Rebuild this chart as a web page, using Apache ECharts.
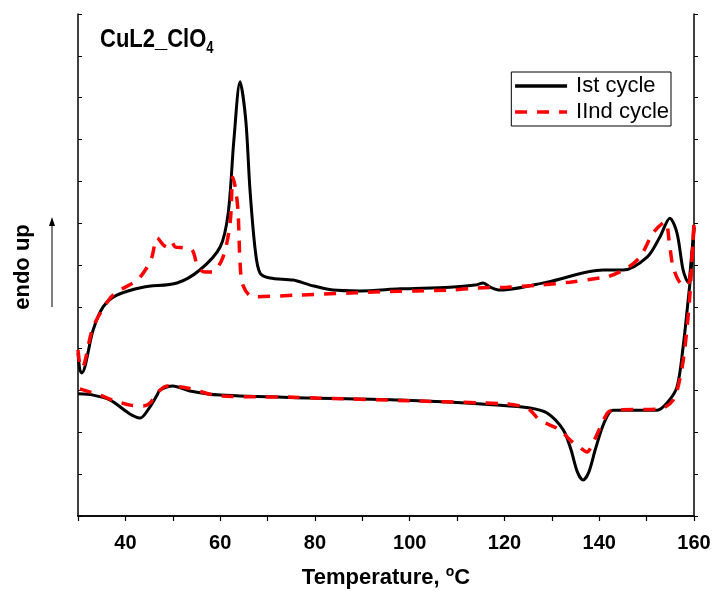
<!DOCTYPE html>
<html>
<head>
<meta charset="utf-8">
<script src="https://cdn.jsdelivr.net/npm/echarts@6/dist/echarts.min.js"></script>
<style>
  html, body { margin: 0; padding: 0; background: #fff; }
  #main { width: 713px; height: 592px; }
</style>
</head>
<body>
<div id="main"></div>
<script>
// x tick labels
var xTicks = [40, 60, 80, 100, 120, 140, 160];

// Ist cycle, heating (T, signal)
var heat1 = [
  [30, 3.90], [30.4, 3.49], [30.8, 3.42], [33.2, 4.45], [35.3, 5.00], [38.2, 5.28],
  [43.7, 5.47], [50.9, 5.57], [55.7, 5.88], [60.0, 6.43], [61.7, 7.24], [62.9, 8.99],
  [64.2, 10.38], [65.4, 9.47], [66.3, 7.79], [67.4, 6.36], [68.4, 5.81], [70.5, 5.69],
  [75.4, 5.64], [79.0, 5.52], [83.8, 5.40], [89.5, 5.38], [98.0, 5.43], [108.5, 5.47],
  [113.8, 5.52], [115.5, 5.57], [117.0, 5.47], [119.1, 5.40], [129.0, 5.59], [140.8, 5.88],
  [145.0, 5.88], [150.1, 6.19], [152.8, 6.67], [154.9, 7.12], [156.4, 6.77], [157.7, 5.88],
  [158.7, 5.59], [159.6, 6.36], [160, 6.91]
];
// Ist cycle, cooling
var cool1 = [
  [30, 2.92], [33.2, 2.89], [36.8, 2.77], [40.3, 2.49], [41.4, 2.41], [43.1, 2.34],
  [45.2, 2.61], [46.7, 2.89], [47.3, 3.01], [50.0, 3.11], [53.6, 2.99], [60.0, 2.89],
  [79.0, 2.82], [98.0, 2.77], [119.1, 2.65], [125.4, 2.58], [129.0, 2.46], [132.4, 2.06],
  [134.0, 1.60], [135.4, 1.05], [136.6, 0.86], [137.8, 1.05], [139.2, 1.60], [141.0, 2.22],
  [142.9, 2.53], [152.2, 2.53], [154.3, 2.70], [156.4, 3.08], [157.7, 4.04], [158.7, 5.09],
  [159.4, 5.88], [160, 6.91]
];
// IInd cycle, heating
var heat2 = [
  [30, 3.97], [30.4, 3.61], [30.8, 3.54], [33.2, 4.52], [36.8, 5.21], [38.9, 5.40],
  [42.5, 5.64], [44.6, 5.95], [45.6, 6.19], [46.7, 6.65], [48.0, 6.48], [48.8, 6.43],
  [49.8, 6.55], [50.5, 6.43], [52.2, 6.41], [54.1, 6.36], [55.3, 5.95], [56.8, 5.83],
  [58.3, 5.83], [60.6, 6.19], [62.1, 7.00], [62.7, 8.10], [63.3, 7.79], [63.8, 7.24],
  [64.2, 6.05], [64.8, 5.52], [66.9, 5.24], [76.2, 5.28], [87.4, 5.33], [94.4, 5.36],
  [101.5, 5.38], [108.5, 5.40], [114.2, 5.45], [120.5, 5.47], [127.5, 5.52], [133.8, 5.59],
  [140.2, 5.69], [141.7, 5.71], [145.9, 5.93], [148.6, 6.19], [151.4, 6.77], [153.9, 7.03],
  [154.9, 6.43], [155.6, 5.95], [157.1, 5.57], [158.7, 5.52], [160, 7.00]
];
// IInd cycle, cooling
var cool2 = [
  [30.4, 3.04], [34.6, 2.89], [37.4, 2.77], [41.0, 2.65], [43.7, 2.63], [45.2, 2.70],
  [46.7, 2.94], [48.8, 3.11], [53.0, 3.06], [60.0, 2.87], [75.4, 2.84], [80.4, 2.82],
  [101.5, 2.75], [120.5, 2.68], [123.3, 2.63], [125.4, 2.53], [127.5, 2.29], [131.7, 2.06],
  [133.8, 1.82], [136.0, 1.63], [137.4, 1.53], [138.7, 1.75], [141.7, 2.46], [142.9, 2.53],
  [152.8, 2.56], [155.6, 2.77], [157.1, 3.32], [158.1, 4.04], [159.1, 5.24], [160, 7.00]
];

var myChart = echarts.init(document.getElementById('main'));
var font = 'Liberation Sans';

function lineSeries(name, data, color, type) {
  return {
    name: name,
    type: 'line',
    data: data,
    symbol: 'none',
    smooth: 0.3,
    lineStyle: { color: color, width: type === 'solid' ? 3 : 3.5, type: type === 'solid' ? 'solid' : [12, 10] },
    itemStyle: { color: color },
    z: type === 'solid' ? 2 : 3
  };
}

var option = {
  animation: false,
  textStyle: { fontFamily: font },
  grid: { left: 78, right: 19, top: 14, bottom: 76, outerBoundsMode: 'none', containLabel: false },
  legend: {
    right: 42, top: 72,
    orient: 'vertical',
    data: ['Ist cycle', 'IInd cycle'],
    itemWidth: 52, itemHeight: 14, itemGap: 4,
    padding: [3, 2, 3, 2],
    borderColor: '#000', borderWidth: 1, borderRadius: 0,
    itemStyle: { opacity: 0 },
    lineStyle: { width: 3.5 },
    textStyle: { fontSize: 22, color: '#000', fontFamily: font, padding: [0, 0, 0, 4] }
  },
  xAxis: [{
    type: 'value', min: 30, max: 160, interval: 10,
    name: '{t|Temperature, }{s|o}{t|C}', nameLocation: 'middle', nameGap: 49,
    nameTextStyle: { rich: {
      t: { fontSize: 22, fontWeight: 'bold', color: '#000', fontFamily: font },
      s: { fontSize: 14, fontWeight: 'bold', color: '#000', fontFamily: font, verticalAlign: 'top', padding: [0, 0, 12, 0] }
    } },
    axisLine: { lineStyle: { color: '#000', width: 1.5 } },
    axisTick: { inside: false, length: 5, lineStyle: { color: '#000', width: 1.2 } },
    axisLabel: {
      fontSize: 20, fontWeight: 'bold', color: '#000', margin: 17,
      formatter: function (v) { return xTicks.indexOf(v) >= 0 ? String(v) : ''; }
    },
    splitLine: { show: false }
  }, {
    type: 'value', min: 30, max: 160, interval: 10, position: 'top',
    axisLine: { show: true, lineStyle: { color: '#000', width: 1.5 } },
    axisTick: { inside: true, length: 4, lineStyle: { color: '#000' } },
    axisLabel: { show: false }, splitLine: { show: false }
  }],
  yAxis: [{
    type: 'value', min: 0, max: 12, interval: 1,
    axisLine: { show: true, lineStyle: { color: '#000', width: 1.5 } },
    axisTick: { show: true, inside: true, length: 4, lineStyle: { color: '#000' } },
    axisLabel: { show: false }, splitLine: { show: false }
  }, {
    type: 'value', min: 0, max: 12, interval: 1, position: 'right',
    axisLine: { show: true, lineStyle: { color: '#000', width: 1.5 } },
    axisTick: { show: true, inside: false, length: 4, lineStyle: { color: '#000' } },
    axisLabel: { show: false }, splitLine: { show: false }
  }],
  graphic: [
    {
      type: 'text', x: 100, y: 24, scaleY: 1.2,
      style: {
        text: '{a|CuL2_ClO}{b|4}',
        rich: {
          a: { fontSize: 22, fontWeight: 'bold', fill: '#000', fontFamily: font },
          b: { fontSize: 13, fontWeight: 'bold', fill: '#000', fontFamily: font, padding: [14, 0, 0, 0] }
        }
      }
    },
    {
      type: 'text', x: 23, y: 267, rotation: Math.PI / 2,
      style: { text: 'endo up', fontSize: 22, fontWeight: 'bold', fill: '#000', fontFamily: font, align: 'center', verticalAlign: 'middle' }
    },
    { type: 'line', shape: { x1: 52, y1: 307, x2: 52, y2: 224 }, style: { stroke: '#000', lineWidth: 1 } },
    { type: 'polygon', shape: { points: [[52, 217], [49, 226], [55, 226]] }, style: { fill: '#000' } }
  ],
  series: [
    lineSeries('Ist cycle', heat1, '#000', 'solid'),
    lineSeries('Ist cycle', cool1, '#000', 'solid'),
    lineSeries('IInd cycle', heat2, '#ff0000', 'dashed'),
    lineSeries('IInd cycle', cool2, '#ff0000', 'dashed')
  ]
};

myChart.setOption(option);
</script>
</body>
</html>
